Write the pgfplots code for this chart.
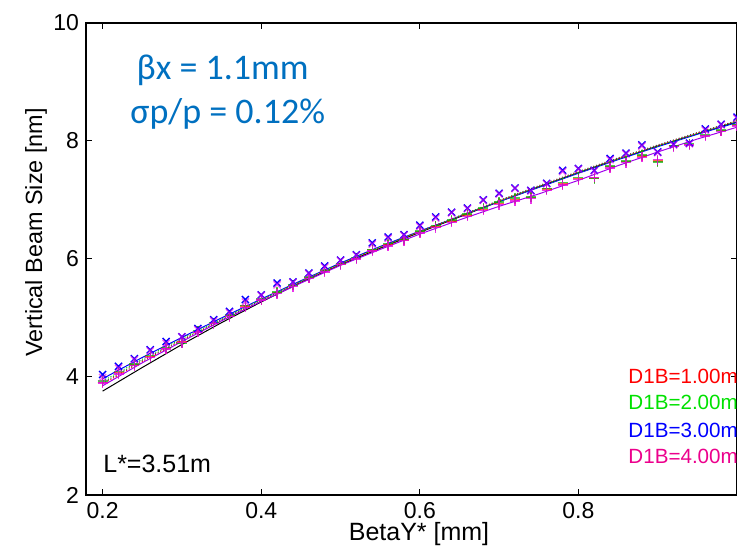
\documentclass[border=0pt]{standalone}
\usepackage{fontspec}
\setmainfont{Liberation Sans}
\newfontfamily\calib{Carlito}
\usepackage{pgfplots}
\usepackage{pgfplotstable}
\pgfplotsset{compat=1.18}
\definecolor{annblue}{RGB}{0,112,192}
\definecolor{mygreen}{RGB}{0,225,0}
\definecolor{mymag}{RGB}{230,0,230}

% marker series: x, blue-x, magenta-x, green-+, magenta-+, red-+
\pgfplotstableread{
x    bx    mx    gp    mp    rp
0.20 4.04 3.99 3.93 3.90 3.91
0.22 4.18 4.15 4.09 4.05 4.07
0.24 4.31 4.29 4.22 4.19 4.20
0.26 4.46 4.44 4.36 4.33 4.35
0.28 4.60 4.57 4.50 4.47 4.48
0.30 4.68 4.68 4.57 4.58 4.59
0.32 4.82 4.80 4.78 4.76 4.77
0.34 4.97 4.95 4.92 4.90 4.91
0.36 5.11 5.09 5.05 5.02 5.04
0.38 5.31 5.27 5.21 5.18 5.20
0.40 5.39 5.38 5.32 5.30 5.31
0.42 5.59 5.56 5.44 5.41 5.43
0.44 5.61 5.60 5.56 5.53 5.55
0.46 5.76 5.75 5.69 5.67 5.68
0.48 5.88 5.86 5.81 5.78 5.80
0.50 5.98 5.97 5.92 5.90 5.91
0.52 6.07 6.06 6.02 6.00 6.01
0.54 6.27 6.25 6.16 6.13 6.15
0.56 6.37 6.35 6.26 6.22 6.24
0.58 6.41 6.40 6.33 6.31 6.32
0.60 6.57 6.55 6.47 6.44 6.46
0.62 6.71 6.69 6.56 6.53 6.55
0.64 6.79 6.78 6.66 6.62 6.64
0.66 6.86 6.85 6.76 6.72 6.74
0.68 7.00 6.99 6.86 6.82 6.84
0.70 7.11 7.10 6.96 6.92 6.94
0.72 7.20 7.19 7.03 6.98 7.01
0.74 7.16 7.15 7.05 7.02 7.04
0.76 7.28 7.27 7.19 7.16 7.18
0.78 7.50 7.48 7.29 7.25 7.27
0.80 7.53 7.52 7.38 7.34 7.36
0.82 7.50 7.49 7.36 7.38 7.37
0.84 7.70 7.68 7.57 7.54 7.56
0.86 7.79 7.78 7.66 7.63 7.65
0.88 7.93 7.91 7.76 7.72 7.74
0.90 7.81 7.80 7.64 7.68 7.66
0.92 7.94 7.93 7.92 7.90 7.91
0.94 7.96 7.95 7.95 7.93 7.94
0.96 8.20 8.18 8.10 8.08 8.09
0.98 8.28 8.27 8.18 8.16 8.17
1.00 8.40 8.38 8.28 8.25 8.27
}\markers

% line series
\pgfplotstableread{
x    blk  blkd  blue  grn   red   mag
0.20 3.76 3.90 3.97 3.93 3.88 3.85
0.25 4.16 4.28 4.33 4.30 4.26 4.24
0.30 4.55 4.63 4.67 4.65 4.62 4.60
0.35 4.92 4.97 5.00 4.98 4.96 4.95
0.40 5.27 5.30 5.32 5.31 5.29 5.28
0.45 5.60 5.62 5.63 5.62 5.61 5.59
0.50 5.90 5.92 5.93 5.92 5.91 5.89
0.55 6.18 6.20 6.21 6.20 6.19 6.16
0.60 6.45 6.47 6.47 6.46 6.46 6.42
0.65 6.71 6.73 6.72 6.72 6.72 6.66
0.70 6.97 6.99 6.97 6.98 6.98 6.89
0.75 7.22 7.24 7.21 7.22 7.23 7.10
0.80 7.46 7.48 7.45 7.46 7.47 7.33
0.85 7.69 7.71 7.68 7.69 7.70 7.58
0.90 7.91 7.93 7.90 7.91 7.92 7.81
0.95 8.12 8.14 8.11 8.12 8.13 8.03
1.00 8.32 8.34 8.31 8.33 8.34 8.23
}\lines

\begin{document}
\begin{tikzpicture}
\begin{axis}[name=ax, scale only axis, width=325.5pt, height=236.15pt,
  xmin=0.179, xmax=1.0, ymin=2, ymax=10,
  xtick={0.2,0.4,0.6,0.8}, ytick={2,4,6,8,10},
  xticklabel style={/pgf/number format/fixed,/pgf/number format/precision=1,/pgf/number format/fixed zerofill},
  /pgf/number format/assume math mode=true,
  tick align=inside, major tick length=3pt,
  axis line style={line width=0.8pt},
  every tick/.style={black, line width=0.5pt},
  ticklabel style={font=\fontsize{11.5}{13}\selectfont},
  xlabel={BetaY* [mm]}, ylabel={Vertical Beam Size [nm]},
  label style={font=\fontsize{11.7}{14}\selectfont},
  xlabel style={font=\fontsize{12.5}{14}\selectfont, at={(axis description cs:0.5115,0)}, anchor=base, yshift=-22.5pt},
  ylabel style={at={([xshift=-25pt]axis description cs:0,0.556)}, anchor=center},
  every axis plot/.append style={line width=0.5pt},
]
% markers
\addplot[only marks, mark=+, mark size=2.5pt, line width=0.7pt, red!80!orange, opacity=0.7] table[x=x,y=rp]{\markers};
\addplot[only marks, mark=+, mark size=2.5pt, line width=0.7pt, mygreen!80!black, opacity=0.7] table[x=x,y=gp]{\markers};
\addplot[only marks, mark=+, mark size=2.5pt, line width=0.7pt, mymag, opacity=0.8] table[x=x,y=mp]{\markers};
\addplot[only marks, mark=x, mark size=2.5pt, line width=0.7pt, blue] table[x=x,y=bx]{\markers};
\addplot[only marks, mark=x, mark size=2.5pt, line width=0.7pt, mymag, opacity=0.6] table[x=x,y=mx]{\markers};
% lines
\addplot[no marks, black] table[x=x,y=blk]{\lines};
\addplot[no marks, blue] table[x=x,y=blue]{\lines};
\addplot[no marks, mygreen, densely dotted] table[x=x,y=grn]{\lines};
\addplot[no marks, red, densely dotted] table[x=x,y=red]{\lines};
\addplot[no marks, black!70, densely dotted] table[x=x,y=blkd]{\lines};
\addplot[no marks, mymag!70!blue] table[x=x,y=mag]{\lines};
% annotations
\node[anchor=base, text=annblue, inner sep=0pt, font=\calib\fontsize{18}{20}\selectfont] at (axis cs:0.3514,9.04) {βx = 1.1mm};
\node[anchor=base, text=annblue, inner sep=0pt, font=\calib\fontsize{18}{20}\selectfont] at (axis cs:0.3577,8.30) {σp/p = 0.12\%};
\node[anchor=west, inner sep=0pt, font=\fontsize{12.5}{14}\selectfont] at (axis cs:0.2004,2.534) {L*=3.51m};
\node[anchor=west, inner sep=0pt, text=red, font=\fontsize{10.3}{12}\selectfont] at (axis cs:0.8626,4.01) {D1B=1.00m};
\node[anchor=west, inner sep=0pt, text=mygreen, font=\fontsize{10.3}{12}\selectfont] at (axis cs:0.8626,3.56) {D1B=2.00m};
\node[anchor=west, inner sep=0pt, text=blue, font=\fontsize{10.3}{12}\selectfont] at (axis cs:0.8626,3.10) {D1B=3.00m};
\node[anchor=west, inner sep=0pt, text=magenta, font=\fontsize{10.3}{12}\selectfont] at (axis cs:0.8626,2.66) {D1B=4.00m};
\end{axis}
\pgfresetboundingbox
\useasboundingbox ([xshift=-43pt,yshift=-25.5pt]ax.south west) rectangle ([yshift=11.35pt]ax.north east);
\end{tikzpicture}
\end{document}
